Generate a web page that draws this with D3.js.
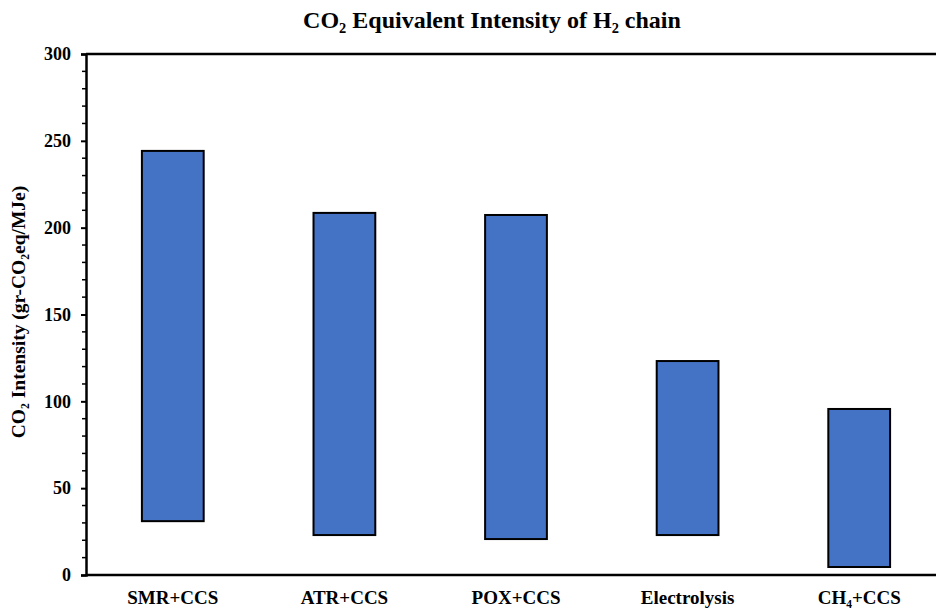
<!DOCTYPE html>
<html><head><meta charset="utf-8">
<script src="https://cdn.jsdelivr.net/npm/d3@7"></script>
<style>body{margin:0;background:#fff}svg{display:block}text{font-family:"Liberation Serif","Times New Roman",serif;font-weight:bold;fill:#000}</style>
</head><body>
<svg id="c" width="936" height="609"></svg>
<script>
const categories = ["SMR+CCS", "ATR+CCS", "POX+CCS", "Electrolysis", "CH\u2084+CCS"];
const lowValues = [31, 23, 20.7, 23, 4.6];
const highValues = [244.2, 208.5, 207.3, 123.2, 95.6];
const yTicks = [0, 50, 100, 150, 200, 250, 300];
const title = "CO\u2082 Equivalent Intensity of H\u2082 chain";
const yLabel = "CO\u2082 Intensity (gr-CO\u2082eq/MJe)";

const svg = d3.select("#c");
const x = d3.scaleBand().domain(categories).range([87, 945]).paddingInner(0.64).paddingOuter(0.32);
const y = d3.scaleLinear().domain([0, 300]).range([575, 54]);

svg.append("line").attr("x1", 86).attr("x2", 936).attr("y1", y(300)).attr("y2", y(300))
  .attr("stroke", "#000").attr("stroke-width", 2.5);

const minor = d3.range(0, 301, 10).filter(v => v % 50 !== 0);
svg.append("g").selectAll("line").data(minor).join("line")
  .attr("x1", 82).attr("x2", 86).attr("y1", d => y(d)).attr("y2", d => y(d))
  .attr("stroke", "#000").attr("stroke-width", 1.5);

const ya = svg.append("g").attr("transform", "translate(86,0)")
  .call(d3.axisLeft(y).tickValues(yTicks).tickSize(5).tickPadding(10));
ya.select(".domain").attr("stroke-width", 2.5);
ya.selectAll(".tick line").attr("stroke-width", 2);
ya.selectAll(".tick text").style("font-size", "18px").style("font-family", "Liberation Serif").style("font-weight", "bold");

const xa = svg.append("g").attr("transform", "translate(0,575)")
  .call(d3.axisBottom(x).tickSize(0).tickPadding(16));
xa.select(".domain").attr("stroke-width", 2.5).attr("d", "M86,0H936");
xa.selectAll(".tick text").style("font-size", "19px").style("font-family", "Liberation Serif").style("font-weight", "bold");

svg.append("g").selectAll("rect").data(categories).join("rect")
  .attr("x", d => x(d))
  .attr("width", x.bandwidth())
  .attr("y", (d, i) => y(highValues[i]))
  .attr("height", (d, i) => y(lowValues[i]) - y(highValues[i]))
  .attr("fill", "#4472C4").attr("stroke", "#000").attr("stroke-width", 2);

svg.append("text").attr("x", 492).attr("y", 28).attr("text-anchor", "middle")
  .style("font-size", "24px").text(title);

svg.append("text").attr("transform", "translate(25,312) rotate(-90)").attr("text-anchor", "middle")
  .style("font-size", "19.5px").text(yLabel);
</script>
</body></html>
